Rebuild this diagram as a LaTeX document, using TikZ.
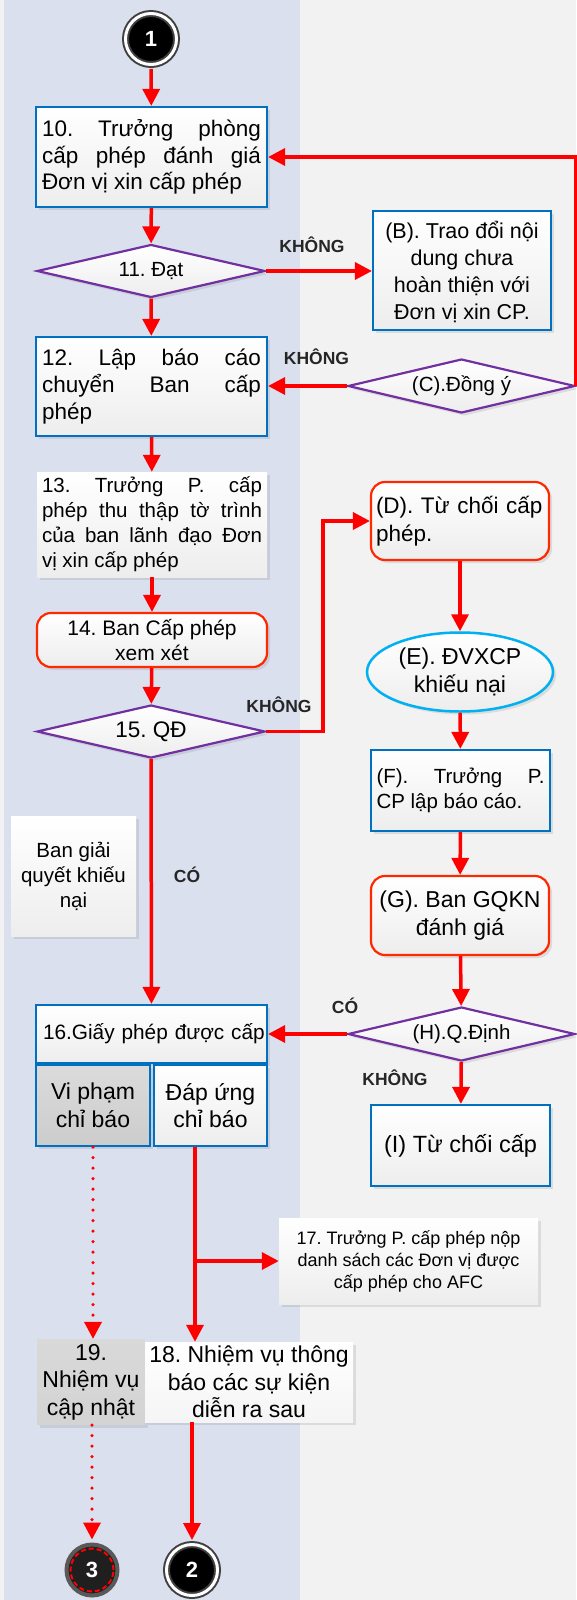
\documentclass[tikz,border=0pt]{standalone}
\usepackage{fontspec}
\setmainfont{Liberation Sans}
\usetikzlibrary{shapes.geometric,
	arrows.meta,
	shadows,
	calc,
	positioning}
\frenchspacing
\definecolor{lanecol}{RGB}{218,224,238}
\definecolor{pagecol}{RGB}{242,242,242}
\definecolor{boxblue}{RGB}{0,112,192}
\definecolor{decpurple}{RGB}{112,48,160}
\definecolor{boxred}{RGB}{255,40,0}
\definecolor{ellcyan}{RGB}{0,176,240}
\newcommand{\fsten}{\fontsize{22.5}{26.8}\selectfont}
\newcommand{\fsbig}{\fontsize{23.5}{28}\selectfont}
\newcommand{\fsmid}{\fontsize{23}{27.5}\selectfont}
\newcommand{\fsnorm}{\fontsize{20.5}{25}\selectfont}
\newcommand{\fssmall}{\fontsize{18}{22}\selectfont}
\newcommand{\fslbl}{\bfseries\fontsize{17.5}{20}\selectfont}
\tikzstyle{softfill}=[top color=white, bottom color=black!7,
		drop shadow={shadow xshift=3pt, shadow yshift=-3pt, opacity=0.2}]
\tikzstyle{bluebox}=[softfill, draw=boxblue, line width=2.2pt, inner sep=6pt]
\tikzstyle{redbox}=[softfill, draw=boxred, line width=2.2pt, rounded corners=14pt, inner sep=5pt]
\tikzstyle{plainbox}=[softfill, inner sep=5pt]
\tikzstyle{graybox}=[top color=black!15, bottom color=black!17, inner sep=5pt,
		drop shadow={shadow xshift=3pt, shadow yshift=-3pt, opacity=0.2}]
\tikzstyle{decision}=[softfill, diamond, aspect=4.4, draw=decpurple, line width=2.2pt,
		inner sep=0pt, minimum width=228, minimum height=53, font=\fsnorm]
\tikzstyle{flow}=[draw=red, line width=3.5pt, -{Triangle[length=17pt,width=17pt]}]
\tikzstyle{dotflow}=[flow, dash pattern=on 0pt off 10.5pt, line cap=round]
\tikzstyle{lbl}=[font=\fslbl, text=black!85, inner sep=0pt]
\tikzstyle{endpt}=[circle, fill=black, text=white, minimum size=51,
		font=\bfseries\fontsize{22}{22}\selectfont]

\begin{document}
\begin{tikzpicture}[x=1pt, y=-1pt]
	\useasboundingbox (0,0) rectangle (576,1600);
	% lanes
	\fill[pagecol] (0,0) rectangle (576,1600);
	\fill[lanecol] (4,0) rectangle (300,1600);

	% left column
	\node[endpt, draw=black!75, double=white, double distance=3pt, line width=2pt] (c1) at (151,39) {1};
	\node[bluebox, minimum width=231, minimum height=100, text width=219pt, align=justify, font=\fsten] (b10) at (151.5,157)
		{10. Trưởng phòng\linebreak cấp phép đánh giá\linebreak Đơn vị xin cấp phép};
	\node[decision] (d11) at (151,271) {11. Đạt};
	\node[bluebox, minimum width=231, minimum height=99, text width=219pt, align=justify, font=\fsten] (b12) at (151.5,386.5)
		{12. Lập báo cáo\linebreak chuyển Ban cấp\linebreak phép};
	\node[plainbox, minimum width=230, minimum height=99, text width=220pt, align=justify, font=\fsnorm] (b13) at (152,524.5)
		{13. Trưởng P. cấp\linebreak phép thu thập tờ trình\linebreak của ban lãnh đạo Đơn\linebreak vị xin cấp phép};
	\node[redbox, minimum width=230, minimum height=54, align=center, font=\fontsize{21}{25}\selectfont] (b14) at (152,640)
		{14. Ban Cấp phép\\xem xét};
	\node[decision, font=\fontsize{22.5}{26}\selectfont] (d15) at (151,731.5) {15. QĐ};
	\node[plainbox, minimum width=125, minimum height=120, align=center, font=\fsnorm] (bGQ) at (73.5,876)
		{Ban giải\\quyết khiếu\\nại};
	\node[bluebox, minimum width=231, minimum height=58, text width=227pt, inner sep=2pt, align=left, font=\fontsize{20.8}{25}\selectfont] (b16) at (151.5,1034)
		{\hspace*{5pt}16.Giấy phép được cấp};
	\node[bluebox, top color=black!14, bottom color=black!20, minimum width=114, minimum height=81, inner sep=3pt, align=center, font=\fsmid] (bVi) at (93,1105.5)
		{Vi phạm\\chỉ báo};
	\node[bluebox, minimum width=113, minimum height=81, inner sep=3pt, align=center, font=\fsmid] (bDap) at (210.5,1105.5)
		{Đáp ứng\\chỉ báo};
	\node[graybox, minimum width=108, minimum height=80, align=center, font=\fsmid] (b19) at (91,1382)
		{19.\\Nhiệm vụ\\cập nhật};
	\node[plainbox, top color=white, bottom color=black!4, minimum width=208, minimum height=80, inner sep=3pt, align=center, font=\fsmid] (b18) at (249,1382)
		{18. Nhiệm vụ thông\\báo các sự kiện\\diễn ra sau};
	\node[endpt, fill=black!88, draw=black!65, line width=4pt] (c3) at (92,1570) {3};
	\draw[red, line width=2pt, dash pattern=on 5pt off 3pt] (c3.center) circle (21.5pt);
	\node[endpt, draw=black!75, double=white, double distance=3pt, line width=2pt] (c2) at (192,1570) {2};

	% right column
	\node[bluebox, minimum width=178, minimum height=119, inner sep=2pt, align=center, font=\fontsize{21.5}{27}\selectfont, text depth=0pt] (bB) at (462,270.5)
		{(B). Trao đổi nội\\dung chưa\\hoàn thiện với\\Đơn vị xin CP.};
	\node[decision, minimum width=227, minimum height=54] (dC) at (461.5,386) {(C).Đồng ý};
	\node[redbox, minimum width=178, minimum height=78, text width=176pt, inner sep=1pt, align=left, font=\fontsize{22.5}{28}\selectfont] (bD) at (460,521)
		{\hspace*{4pt}(D). Từ chối cấp\\\hspace*{4pt}phép.};
	\node[softfill, ellipse, draw=ellcyan, line width=2.5pt, minimum width=186, minimum height=79, inner sep=0pt, align=center, font=\fsmid] (eE) at (460,672)
		{(E). ĐVXCP\\khiếu nại};
	\node[bluebox, minimum width=179, minimum height=81, text width=168pt, inner sep=5.5pt, align=justify, font=\fsnorm] (bF) at (460.5,790.5)
		{(F). Trưởng P.\linebreak CP lập báo cáo.};
	\node[redbox, minimum width=178, minimum height=79, align=center, font=\fsmid] (bG) at (460,915.5)
		{(G). Ban GQKN\\đánh giá};
	\node[decision, minimum width=227, minimum height=54] (dH) at (461.5,1034) {(H).Q.Định};
	\node[bluebox, minimum width=179, minimum height=81, align=center, font=\fsbig] (bI) at (460.5,1145.5)
		{(I) Từ chối cấp};
	\node[plainbox, minimum width=259, minimum height=86, align=center, font=\fssmall] (b17) at (408.5,1261)
		{17. Trưởng P. cấp phép nộp\\danh sách các Đơn vị được\\cấp phép cho AFC};

	% connectors
	\coordinate (k15) at (323,731.5);
	\coordinate (s18) at ($(bDap.south)+(-15.5,0)$);
	\coordinate (t17) at (s18 |- b17.west);
	\draw[flow, shorten <=3.5pt] (c1) -- (b10);
	\draw[flow] (b10) -- (d11);
	\draw[flow] (d11.east) -- (d11.east -| bB.west);
	\draw[flow] (d11) -- (b12);
	\draw[flow] (dC.west) -- (dC.west -| b12.east);
	\draw[flow] (dC.east) |- (b10.east);
	\draw[flow] (b12) -- (b13);
	\draw[flow] (b13) -- (b14);
	\draw[flow] (b14) -- (d15);
	\draw[flow] (d15.east) -- (k15) |- (bD.west);
	\draw[flow] (bD) -- (eE);
	\draw[flow] (eE) -- (bF);
	\draw[flow] (bF) -- (bG);
	\draw[flow] (bG) -- (dH);
	\draw[flow] (dH.west) -- (dH.west -| b16.east);
	\draw[flow] (dH) -- (bI);
	\draw[flow] (d15) -- (b16);
	\draw[dotflow] (bVi.south) -- (bVi.south |- b19.north);
	\draw[flow] (s18) -- (s18 |- b18.north);
	\draw[flow] (t17) -- (b17.west);
	\draw[dotflow, shorten >=3pt] (b19.south -| c3) -- (c3);
	\draw[flow, shorten >=3.5pt] (b18.south -| c2) -- (c2);

	% labels
	\node[lbl] (l11) at (312,245) {KHÔNG};
	\node[lbl] (lC) at (316.5,357) {KHÔNG};
	\node[lbl] (l15) at (279,705) {KHÔNG};
	\node[lbl] (l16) at (187,875) {CÓ};
	\node[lbl] (lH) at (345,1006) {CÓ};
	\node[lbl] (lI) at (395,1078) {KHÔNG};
\end{tikzpicture}
\end{document}
